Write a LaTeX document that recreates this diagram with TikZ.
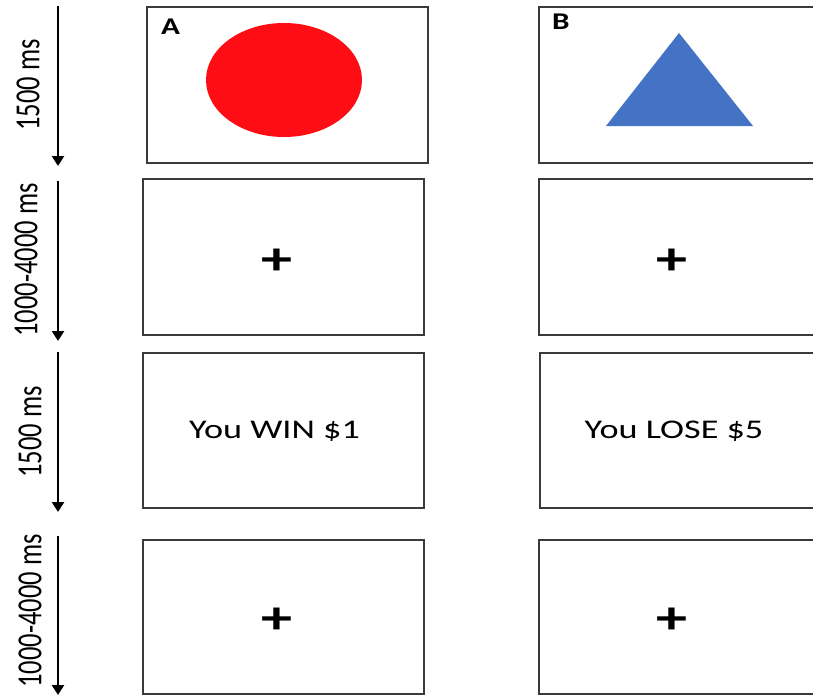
\documentclass[tikz,border=0pt]{standalone}
\usepackage{fontspec}
\setmainfont{Carlito}
\usetikzlibrary{arrows.meta}
\definecolor{boxgray}{HTML}{3A3A3A}
\definecolor{shapered}{RGB}{255,13,20}
\definecolor{shapeblue}{HTML}{4472C4}
\begin{document}
\begin{tikzpicture}[x=1pt,y=-1pt,
  panel/.style={draw=boxgray, line width=1.5pt, minimum width=281pt, minimum height=156pt, inner sep=0pt},
  timearrow/.style={line width=2.8pt, -{Triangle[width=12pt,length=10pt]}},
  timelabel/.style={rotate=90, font=\fontsize{26.5}{30}\selectfont, inner sep=0pt},
  msg/.style={font=\fontsize{27}{30}\selectfont, inner sep=0pt},
  fixation/.style={font=\fontsize{46}{46}\selectfont\bfseries, inner sep=0pt},
  letter/.style={font=\fontsize{24}{26}\selectfont\bfseries, inner sep=0pt, anchor=north west}]
\clip (0,0) rectangle (813,696);
\fill[white] (0,0) rectangle (813,696);
% panels
\node[panel] (pa1) at (287.5,85) {};
\node[panel] (pb1) at (679.5,85) {};
\node[panel] (pa2) at (283.5,257) {};
\node[panel] (pb2) at (679.5,257) {};
\node[panel, minimum height=155pt] (pa3) at (283.5,430.5) {};
\node[panel, minimum height=155pt] (pb3) at (680.5,430.5) {};
\node[panel, minimum height=154pt] (pa4) at (283.5,617) {};
\node[panel, minimum height=154pt] (pb4) at (679.5,617) {};
% panel contents
\node[letter] (la) at (161,19) {\scalebox{1.3}[1]{A}};
\node[letter] (lb) at (552,14) {\scalebox{1.3}[1]{B}};
\fill[shapered] (284,80) ellipse [x radius=78, y radius=57];
\fill[shapeblue] (679,33) -- (753,126) -- (606,126) -- cycle;
\node[fixation] (fa2) at (277,262) {\scalebox{1.35}[1]{+}};
\node[fixation] (fb2) at (672,262) {\scalebox{1.35}[1]{+}};
\node[fixation] (fa4) at (277,621) {\scalebox{1.35}[1]{+}};
\node[fixation] (fb4) at (672,621) {\scalebox{1.35}[1]{+}};
\node[msg] (win) at (274.5,431) {\scalebox{1.34}[1]{You WIN \$1}};
\node[msg] (lose) at (674,431) {\scalebox{1.34}[1]{You LOSE \$5}};
% time arrows
\coordinate (s1) at (58,6);   \coordinate (e1) at (58,166);
\coordinate (s2) at (58,181); \coordinate (e2) at (58,341);
\coordinate (s3) at (58,352); \coordinate (e3) at (58,512);
\coordinate (s4) at (58,536); \coordinate (e4) at (58,695);
\draw[timearrow] (s1) -- (e1);
\draw[timearrow] (s2) -- (e2);
\draw[timearrow] (s3) -- (e3);
\draw[timearrow] (s4) -- (e4);
\node[timelabel] (t1) at (28,85) {\scalebox{1}[1.33]{1500 ms}};
\node[timelabel] (t2) at (26,260) {\scalebox{1}[1.33]{1000-4000 ms}};
\node[timelabel] (t3) at (30,432) {\scalebox{1}[1.33]{1500 ms}};
\node[timelabel] (t4) at (30,611) {\scalebox{1}[1.33]{1000-4000 ms}};
\end{tikzpicture}
\end{document}
